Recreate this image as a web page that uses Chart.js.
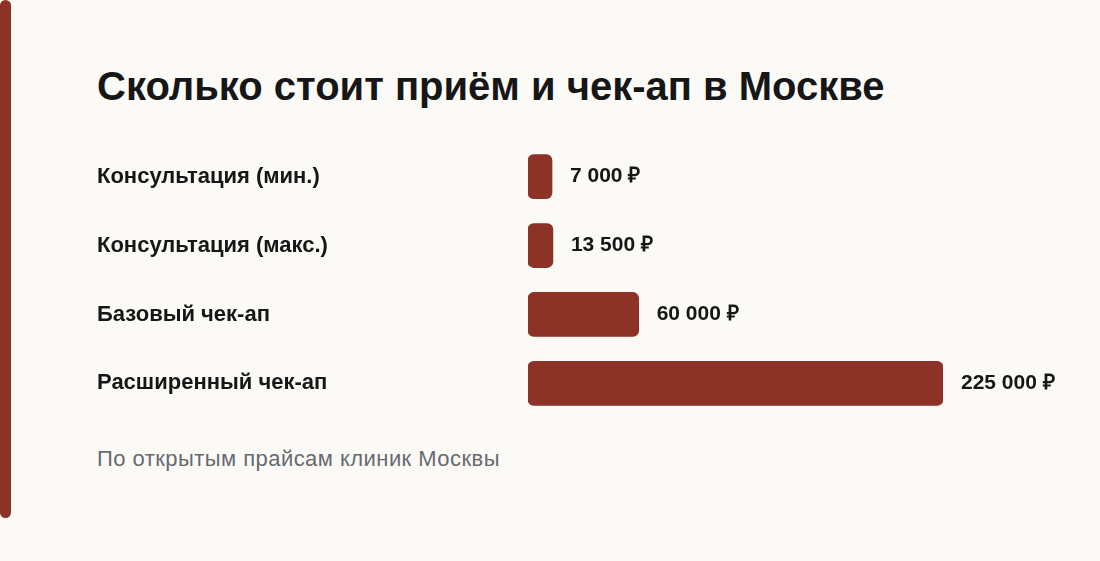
<!DOCTYPE html>
<html lang="ru">
<head>
<meta charset="utf-8">
<script src="https://cdn.jsdelivr.net/npm/chart.js@4"></script>
<style>
  html, body { margin: 0; padding: 0; }
  body { width: 1100px; height: 561px; background: #fbfaf7; position: relative; overflow: hidden;
         font-family: "Liberation Sans", Arial, sans-serif; }
  #accent { position: absolute; left: 0; top: 0; width: 11px; height: 518px; background: #8c3226; border-radius: 6px; }
  #title { position: absolute; left: 97px; top: 66px; margin: 0; font-size: 40px; line-height: 40px; font-weight: bold; color: #161616; white-space: nowrap; }
  #note { position: absolute; left: 97px; top: 448px; font-size: 22px; line-height: 22px; letter-spacing: 0.45px; color: #676a70; white-space: nowrap; }
  #wrap { position: absolute; left: 97px; top: 126px; width: 1003px; height: 308px; }
</style>
</head>
<body>
<div id="accent"></div>
<h1 id="title">Сколько стоит приём и чек-ап в Москве</h1>
<div id="wrap"><canvas id="priceChart"></canvas></div>
<div id="note">По открытым прайсам клиник Москвы</div>
<script>
const categories = ['Консультация (мин.)', 'Консультация (макс.)', 'Базовый чек-ап', 'Расширенный чек-ап'];
const prices = [7000, 13500, 60000, 225000];

const fmt = v => v.toString().replace(/\B(?=(\d{3})+(?!\d))/g, ' ') + ' ₽';

// подписи значений справа от столбцов
const valueLabels = {
    id: 'valueLabels',
    afterDatasetsDraw(chart) {
        const c = chart.ctx;
        c.save();
        c.font = 'bold 21px "Liberation Sans", Arial, sans-serif';
        c.fillStyle = '#161616';
        c.textBaseline = 'middle';
        chart.getDatasetMeta(0).data.forEach((bar, i) => {
            c.fillText(fmt(prices[i]), bar.x + 18, bar.y);
        });
        c.restore();
    }
};

const ctx = document.getElementById('priceChart').getContext('2d');
const priceChart = new Chart(ctx, {
    type: 'bar',
    data: {
        labels: categories,
        datasets: [{
            data: prices,
            backgroundColor: '#8c3226',
            borderRadius: 6,
            borderSkipped: false,
            barThickness: 44,
            minBarLength: 24,
        }]
    },
    options: {
        indexAxis: 'y',
        responsive: true,
        maintainAspectRatio: false,
        animation: false,
        layout: { padding: { left: 0, right: 157, top: 0, bottom: 0 } },
        plugins: { legend: { display: false }, tooltip: { enabled: false } },
        scales: {
            x: { display: false, min: 0, max: 225000 },
            y: {
                grid: { display: false, drawTicks: false },
                border: { display: false },
                ticks: {
                    crossAlign: 'far',
                    color: '#161616',
                    font: { family: '"Liberation Sans", Arial, sans-serif', size: 22, weight: 'bold' }
                },
                afterFit(scale) { scale.width = 431; }
            }
        }
    },
    plugins: [valueLabels]
});
</script>
</body>
</html>
